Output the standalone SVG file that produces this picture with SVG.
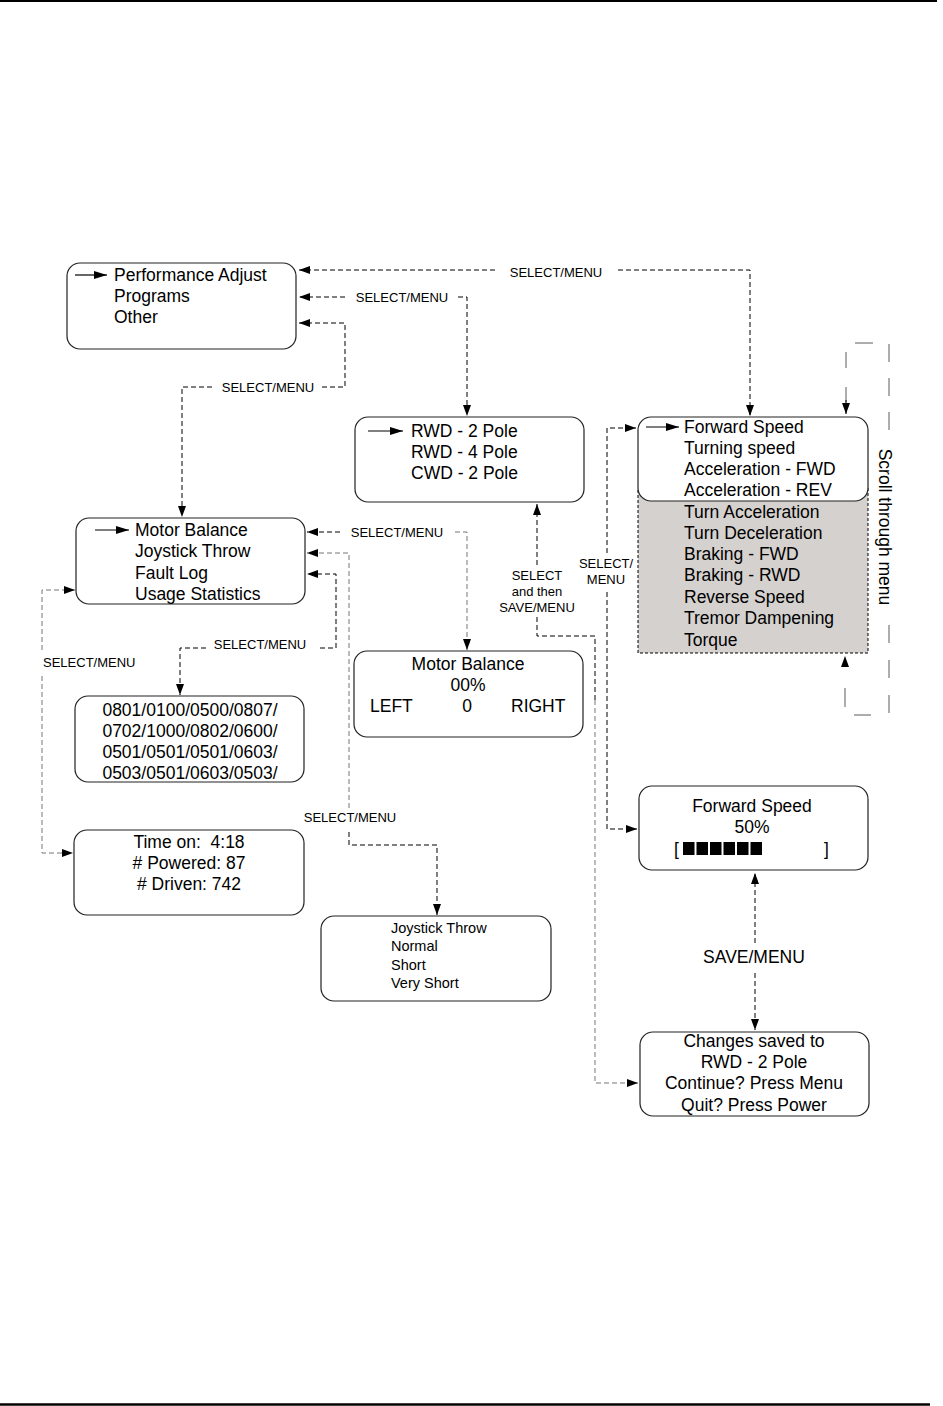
<svg xmlns="http://www.w3.org/2000/svg" width="943" height="1406" viewBox="0 0 943 1406">
<style>
.box{fill:#fff;stroke:#222;stroke-width:1.2}
.t{font-family:"Liberation Sans",Arial,sans-serif;font-size:17.5px;fill:#000}
.c{text-anchor:middle}
.s{font-family:"Liberation Sans",Arial,sans-serif;font-size:13px;fill:#000}
.j{font-family:"Liberation Sans",Arial,sans-serif;font-size:14.5px;fill:#000}
.d{fill:none;stroke:#000;stroke-width:1;stroke-dasharray:5,3}
.g{fill:none;stroke:#777;stroke-width:1;stroke-dasharray:5,3}
.sc{fill:none;stroke:#999;stroke-width:1.6}
.ptr{fill:none;stroke:#000;stroke-width:1.2}
</style>
<defs>
<marker id="ah" markerUnits="userSpaceOnUse" markerWidth="11" markerHeight="8" refX="11" refY="4" orient="auto">
<path d="M0,0 L11,4 L0,8 z" fill="#000"/>
</marker>
<marker id="pa" markerUnits="userSpaceOnUse" markerWidth="13" markerHeight="8" refX="13" refY="4" orient="auto">
<path d="M0,0 L13,4 L0,8 z" fill="#000"/>
</marker>
</defs>

<line x1="0" y1="1" x2="937" y2="1" stroke="#000" stroke-width="2"/>
<line x1="0" y1="1404.5" x2="930" y2="1404.5" stroke="#000" stroke-width="2.5"/>

<g id="connectors">
<path class="d" d="M495,270 H299" marker-end="url(#ah)"/>
<path class="d" d="M618,270 H750 V416" marker-end="url(#ah)"/>
<path class="d" d="M345,297 H299" marker-end="url(#ah)"/>
<path class="d" d="M458,297 H467 V416" marker-end="url(#ah)"/>
<path class="d" d="M322,387 H345 V323 H299" marker-end="url(#ah)"/>
<path class="d" d="M212,387 H182 V517" marker-end="url(#ah)"/>
<path class="d" d="M340,532 H307" marker-end="url(#ah)"/>
<path class="g" d="M455,532 H467 V650" marker-end="url(#ah)"/>
<path class="g" d="M349,808 V553 H307" marker-end="url(#ah)"/>
<path class="d" d="M349,832 V845 H437 V915" marker-end="url(#ah)"/>
<path class="d" d="M320,648 H336 V574 H307" marker-end="url(#ah)"/>
<path class="d" d="M206,648 H180 V695" marker-end="url(#ah)"/>
<path class="g" d="M42,650 V590 H75" marker-end="url(#ah)"/>
<path class="g" d="M42,676 V853 H73" marker-end="url(#ah)"/>
<path class="d" d="M537,565 V504" marker-end="url(#ah)"/>
<path class="d" d="M537,617 V636 H595 V700"/>
<path class="g" d="M595,700 V1083 H638" marker-end="url(#ah)"/>
<path class="d" d="M607,553 V428 H636" marker-end="url(#ah)"/>
<path class="d" d="M607,592 V829 H637" marker-end="url(#ah)"/>
<path class="d" d="M755,943 V873" marker-end="url(#ah)"/>
<path class="d" d="M755,973 V1030" marker-end="url(#ah)"/>
<path class="sc" d="M855,343 H873"/>
<path class="sc" d="M846,352 V402" stroke-dasharray="16,19"/>
<path class="d" d="M846,400 V414" style="stroke-dasharray:none" marker-end="url(#ah)"/>
<path class="sc" d="M889,344 V432" stroke-dasharray="18,16"/>
<path class="sc" d="M889,625 V715" stroke-dasharray="18,17"/>
<path class="d" d="M845,670 V656" style="stroke-dasharray:none;stroke:none" marker-end="url(#ah)"/>
<path class="sc" d="M845,688 V707"/>
<path class="sc" d="M854,715 H871"/>
<text class="s c" x="556" y="277">SELECT/MENU</text>
<text class="s c" x="402" y="302">SELECT/MENU</text>
<text class="s c" x="268" y="392">SELECT/MENU</text>
<text class="s c" x="397" y="537">SELECT/MENU</text>
<text class="s c" x="350" y="822">SELECT/MENU</text>
<text class="s c" x="260" y="649">SELECT/MENU</text>
<text class="s" x="43" y="667">SELECT/MENU</text>
<text class="s c" x="537" y="580">SELECT</text>
<text class="s c" x="537" y="596">and then</text>
<text class="s c" x="537" y="612">SAVE/MENU</text>
<text class="s c" x="606" y="568">SELECT/</text>
<text class="s c" x="606" y="584">MENU</text>
<text class="t c" x="754" y="963">SAVE/MENU</text>
<text class="t c" x="879" y="527" transform="rotate(90 879 527)">Scroll through menu</text>
</g>

<g id="main-menu">
<rect class="box" x="67" y="263" width="229" height="86" rx="13"/>
<path class="ptr" d="M75,275 H107" marker-end="url(#pa)"/>
<text class="t" x="114" y="281">Performance Adjust</text>
<text class="t" x="114" y="302">Programs</text>
<text class="t" x="114" y="323">Other</text>
</g>

<g id="programs-menu">
<rect class="box" x="355" y="417" width="229" height="85" rx="13"/>
<path class="ptr" d="M368,431 H403" marker-end="url(#pa)"/>
<text class="t" x="411" y="437">RWD - 2 Pole</text>
<text class="t" x="411" y="458">RWD - 4 Pole</text>
<text class="t" x="411" y="479">CWD - 2 Pole</text>
</g>

<g id="performance-menu">
<rect x="638" y="488" width="230" height="165" fill="#d5d1ce" stroke="#000" stroke-width="1" stroke-dasharray="3,2"/>
<rect class="box" x="638" y="417" width="230" height="84" rx="13"/>
<path class="ptr" d="M646,427 H679" marker-end="url(#pa)"/>
<text class="t" x="684" y="433">Forward Speed</text>
<text class="t" x="684" y="454">Turning speed</text>
<text class="t" x="684" y="475">Acceleration - FWD</text>
<text class="t" x="684" y="496">Acceleration - REV</text>
<text class="t" x="684" y="518">Turn Acceleration</text>
<text class="t" x="684" y="539">Turn Deceleration</text>
<text class="t" x="684" y="560">Braking - FWD</text>
<text class="t" x="684" y="581">Braking - RWD</text>
<text class="t" x="684" y="603">Reverse Speed</text>
<text class="t" x="684" y="624">Tremor Dampening</text>
<text class="t" x="684" y="646">Torque</text>
</g>

<g id="other-menu">
<rect class="box" x="76" y="518" width="229" height="86" rx="13"/>
<path class="ptr" d="M95,530 H129" marker-end="url(#pa)"/>
<text class="t" x="135" y="536">Motor Balance</text>
<text class="t" x="135" y="557">Joystick Throw</text>
<text class="t" x="135" y="579">Fault Log</text>
<text class="t" x="135" y="600">Usage Statistics</text>
</g>

<g id="fault-log">
<rect class="box" x="75" y="696" width="229" height="86" rx="13"/>
<text class="t c" x="190" y="716">0801/0100/0500/0807/</text>
<text class="t c" x="190" y="737">0702/1000/0802/0600/</text>
<text class="t c" x="190" y="758">0501/0501/0501/0603/</text>
<text class="t c" x="190" y="779">0503/0501/0603/0503/</text>
</g>

<g id="usage-statistics">
<rect class="box" x="74" y="830" width="230" height="85" rx="13"/>
<text class="t c" x="189" y="848">Time on:&#160; 4:18</text>
<text class="t c" x="189" y="869"># Powered: 87</text>
<text class="t c" x="189" y="890"># Driven: 742</text>
</g>

<g id="motor-balance">
<rect class="box" x="354" y="651" width="229" height="86" rx="13"/>
<text class="t c" x="468" y="670">Motor Balance</text>
<text class="t c" x="468" y="691">00%</text>
<text class="t" x="370" y="712">LEFT</text>
<text class="t c" x="467" y="712">0</text>
<text class="t" x="511" y="712">RIGHT</text>
</g>

<g id="joystick-throw">
<rect class="box" x="321" y="916" width="230" height="85" rx="13"/>
<text class="j" x="391" y="933">Joystick Throw</text>
<text class="j" x="391" y="951">Normal</text>
<text class="j" x="391" y="970">Short</text>
<text class="j" x="391" y="988">Very Short</text>
</g>

<g id="forward-speed">
<rect class="box" x="639" y="786" width="229" height="84" rx="13"/>
<text class="t c" x="752" y="812">Forward Speed</text>
<text class="t c" x="752" y="833">50%</text>
<text class="t" x="674" y="855">[</text>
<g fill="#000">
<rect x="683" y="842" width="11.5" height="13"/>
<rect x="696.5" y="842" width="11.5" height="13"/>
<rect x="710" y="842" width="11.5" height="13"/>
<rect x="723.5" y="842" width="11.5" height="13"/>
<rect x="737" y="842" width="11.5" height="13"/>
<rect x="750.5" y="842" width="11.5" height="13"/>
</g>
<text class="t" x="824" y="855">]</text>
</g>

<g id="changes-saved">
<rect class="box" x="640" y="1032" width="229" height="84" rx="13"/>
<text class="t c" x="754" y="1047">Changes saved to</text>
<text class="t c" x="754" y="1068">RWD - 2 Pole</text>
<text class="t c" x="754" y="1089">Continue? Press Menu</text>
<text class="t c" x="754" y="1111">Quit? Press Power</text>
</g>
</svg>
